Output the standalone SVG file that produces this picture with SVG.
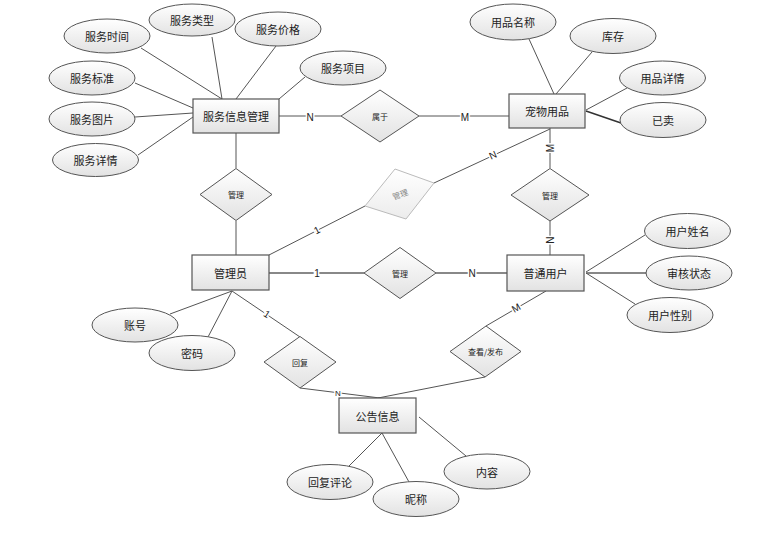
<svg xmlns="http://www.w3.org/2000/svg" width="773" height="538" viewBox="0 0 773 538">
<defs>
<linearGradient id="g" x1="0" y1="0" x2="0" y2="1">
<stop offset="0" stop-color="#ffffff"/>
<stop offset="1" stop-color="#e2e2e2"/>
</linearGradient>
<linearGradient id="gl" x1="0" y1="0" x2="0" y2="1">
<stop offset="0" stop-color="#ffffff"/>
<stop offset="1" stop-color="#ececec"/>
</linearGradient>
<style>
.ent rect{fill:url(#g);stroke:#555;stroke-width:1.2}
.att ellipse{fill:url(#g);stroke:#555;stroke-width:1}
.rel polygon{fill:url(#g);stroke:#555;stroke-width:1}
text{font-family:"Noto Sans CJK SC","Liberation Sans",sans-serif;fill:#222;text-anchor:middle;dominant-baseline:central}
.t{font-size:11px}
.s{font-size:8px}
.lbl{font-family:"Liberation Sans",sans-serif;font-size:10px;fill:#222;stroke:#fff;stroke-width:3;paint-order:stroke}
.ln line{stroke:#555;stroke-width:1}
.ln line.thick{stroke:#888;stroke-width:2}
</style>
</defs>
<rect width="773" height="538" fill="#fff"/>

<g id="connectors" class="ln">
<line x1="141" y1="48" x2="222" y2="99"/>
<line x1="212" y1="37" x2="222" y2="99"/>
<line x1="276" y1="46" x2="236" y2="99"/>
<line x1="305" y1="77" x2="279" y2="99"/>
<line x1="135" y1="83" x2="193" y2="108"/>
<line x1="135" y1="117" x2="193" y2="113"/>
<line x1="138" y1="155" x2="193" y2="117"/>
<line x1="279" y1="116" x2="341" y2="116"/>
<line x1="419" y1="116" x2="509" y2="116"/>
<line x1="236" y1="133" x2="236" y2="168"/>
<line x1="236" y1="221" x2="236" y2="255"/>
<line x1="529" y1="39" x2="554" y2="94"/>
<line x1="592" y1="52" x2="556" y2="94"/>
<line x1="627" y1="88" x2="586" y2="110"/>
<line x1="621" y1="123" x2="586" y2="111" style="stroke:#333;stroke-width:1.6"/>
<line x1="550" y1="128" x2="550" y2="168"/>
<line x1="550" y1="221" x2="550" y2="255"/>
<line x1="550" y1="129" x2="434" y2="183"/>
<line x1="365" y1="206" x2="269" y2="255"/>
<line class="thick" x1="269" y1="273" x2="364" y2="273"/>
<line class="thick" x1="436" y1="273" x2="507" y2="273"/>
<line x1="586" y1="272" x2="645" y2="235"/>
<line class="thick" x1="586" y1="273" x2="647" y2="273"/>
<line x1="586" y1="273" x2="635" y2="304"/>
<line x1="232" y1="291" x2="170" y2="314"/>
<line x1="232" y1="291" x2="208" y2="337"/>
<line x1="232" y1="291" x2="300" y2="337"/>
<line x1="300" y1="388" x2="380" y2="398"/>
<line x1="485" y1="377" x2="378" y2="398"/>
<line x1="546" y1="291" x2="486" y2="326"/>
<line x1="382" y1="433" x2="349" y2="466"/>
<line x1="382" y1="433" x2="409" y2="482"/>
<line x1="419" y1="417" x2="466" y2="456"/>
<text class="lbl" x="310" y="117">N</text>
<text class="lbl" x="465" y="117">M</text>
<text class="lbl" x="550" y="148" transform="rotate(-90 550 148)">M</text>
<text class="lbl" x="550" y="240" transform="rotate(-90 550 240)">N</text>
<text class="lbl" x="493" y="155" transform="rotate(-24 493 155)">N</text>
<text class="lbl" x="317" y="230" transform="rotate(-27 317 230)">1</text>
<text class="lbl" x="317" y="273">1</text>
<text class="lbl" x="472" y="273">N</text>
<text class="lbl" x="267" y="314" transform="rotate(33 267 314)">1</text>
<text class="lbl" x="516" y="308" transform="rotate(-30 516 308)">M</text>
<text class="lbl" x="338" y="393" style="font-size:8px">N</text>
</g>

<g id="e-service" class="ent"><rect x="193" y="99" width="86" height="34"/><text class="t" x="236" y="116">服务信息管理</text></g>
<g id="e-pet" class="ent"><rect x="509" y="94" width="76" height="34"/><text class="t" x="547" y="111">宠物用品</text></g>
<g id="e-admin" class="ent"><rect x="192" y="255" width="77" height="35"/><text class="t" x="230.5" y="272.5">管理员</text></g>
<g id="e-user" class="ent"><rect x="507" y="255" width="77" height="36"/><text class="t" x="545.5" y="273">普通用户</text></g>
<g id="e-notice" class="ent"><rect x="339" y="398" width="77" height="35"/><text class="t" x="377.5" y="415.5">公告信息</text></g>

<g id="a-time" class="att"><ellipse cx="107" cy="36" rx="43" ry="17"/><text class="t" x="107" y="36">服务时间</text></g>
<g id="a-type" class="att"><ellipse cx="192" cy="20" rx="43" ry="16"/><text class="t" x="192" y="20">服务类型</text></g>
<g id="a-price" class="att"><ellipse cx="278" cy="29" rx="43" ry="17"/><text class="t" x="278" y="29">服务价格</text></g>
<g id="a-item" class="att"><ellipse cx="343" cy="68" rx="43" ry="17"/><text class="t" x="343" y="68">服务项目</text></g>
<g id="a-std" class="att"><ellipse cx="92" cy="78" rx="43" ry="17"/><text class="t" x="92" y="78">服务标准</text></g>
<g id="a-pic" class="att"><ellipse cx="92" cy="119" rx="43" ry="17"/><text class="t" x="92" y="119">服务图片</text></g>
<g id="a-detail" class="att"><ellipse cx="95.5" cy="160" rx="43" ry="16.5"/><text class="t" x="95.5" y="160">服务详情</text></g>
<g id="a-pname" class="att"><ellipse cx="513" cy="22" rx="43" ry="18"/><text class="t" x="513" y="22">用品名称</text></g>
<g id="a-stock" class="att"><ellipse cx="613" cy="36" rx="43" ry="17.5"/><text class="t" x="613" y="36">库存</text></g>
<g id="a-pdetail" class="att"><ellipse cx="662.5" cy="78" rx="43" ry="17"/><text class="t" x="662.5" y="78">用品详情</text></g>
<g id="a-sold" class="att"><ellipse cx="663" cy="120" rx="43" ry="17.5"/><text class="t" x="663" y="120">已卖</text></g>
<g id="a-uname" class="att"><ellipse cx="687.5" cy="231" rx="43" ry="17.5"/><text class="t" x="687.5" y="231">用户姓名</text></g>
<g id="a-status" class="att"><ellipse cx="689" cy="273" rx="43" ry="17"/><text class="t" x="689" y="273">审核状态</text></g>
<g id="a-gender" class="att"><ellipse cx="670" cy="315" rx="43" ry="17.5"/><text class="t" x="670" y="315">用户性别</text></g>
<g id="a-account" class="att"><ellipse cx="135" cy="325" rx="43" ry="17"/><text class="t" x="135" y="325">账号</text></g>
<g id="a-pwd" class="att"><ellipse cx="192" cy="353" rx="43" ry="17.5"/><text class="t" x="192" y="353">密码</text></g>
<g id="a-reply" class="att"><ellipse cx="330" cy="482" rx="43" ry="17.5"/><text class="t" x="330" y="482">回复评论</text></g>
<g id="a-nick" class="att"><ellipse cx="416" cy="499" rx="43" ry="17.5"/><text class="t" x="416" y="499">昵称</text></g>
<g id="a-content" class="att"><ellipse cx="487" cy="471.5" rx="43" ry="17.5"/><text class="t" x="487" y="471.5">内容</text></g>

<g id="r-belong" class="rel"><polygon points="341,116 380,90 419,116 380,142"/><text class="s" x="380" y="116">属于</text></g>
<g id="r-manage1" class="rel"><polygon points="200,194.5 236,168.5 272,194.5 236,220.5"/><text class="s" x="236" y="194.5">管理</text></g>
<g id="r-manage2" class="rel"><polygon points="364,273 400,247.5 436,273 400,298.5"/><text class="s" x="400" y="273">管理</text></g>
<g id="r-manage3" class="rel"><polygon points="511,195 550,168.5 589,195 550,221"/><text class="s" x="550" y="195">管理</text></g>
<g id="r-reply" class="rel"><polygon points="264,362 300,336.5 336,362 300,388"/><text class="s" x="300" y="362">回复</text></g>
<g id="r-post" class="rel"><polygon points="450,351.5 486,326 521,351.5 485,377"/><text class="s" x="485.5" y="351.5">查看/发布</text></g>
<g id="r-manage4"><polygon points="395,169 434,183 406,219 365,206" fill="url(#gl)" stroke="#bbb" stroke-width="1"/><text class="s" x="400" y="194" fill="#888" style="fill:#888" transform="rotate(-20 400 194)">管理</text></g>
</svg>
